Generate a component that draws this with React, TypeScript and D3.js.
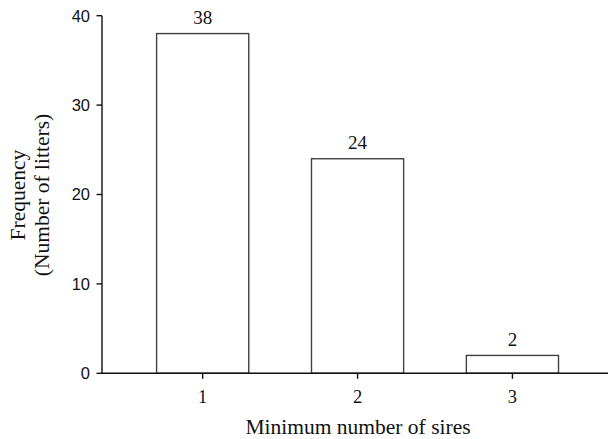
import React from "react";
import * as d3 from "d3";

const categories: number[] = [1, 2, 3];
const frequencies: number[] = [38, 24, 2];
const yTicks: number[] = [0, 10, 20, 30, 40];
const xTitle = "Minimum number of sires";
const yTitleLines: string[] = ["Frequency", "(Number of litters)"];

const W = 608;
const H = 439;
const axisX = 102;
const axisY = 373.3;
const topY = 15.7;

export default function App() {
  const x = d3.scaleLinear().domain([0.35, 3.617]).range([axisX, W]);
  const y = d3.scaleLinear().domain([0, 40]).range([axisY, topY]);
  const barW = 0.595;
  const serif = "'Liberation Serif', 'Times New Roman', serif";
  const sans = "'Liberation Sans', Arial, sans-serif";
  const barStroke = "#404040";

  return (
    <svg
      width={W}
      height={H}
      style={{ position: "absolute", left: 0, top: 0, background: "#fff" }}
    >
      <rect x={0} y={0} width={W} height={H} fill="#fff" />
      {/* bars */}
      {categories.map((c, i) => (
        <g key={c}>
          <rect
            x={x(c - barW / 2)}
            y={y(frequencies[i])}
            width={x(c + barW / 2) - x(c - barW / 2)}
            height={y(0) - y(frequencies[i])}
            fill="#fff"
            stroke={barStroke}
            strokeWidth={1.4}
          />
          <text
            x={x(c)}
            y={y(frequencies[i]) - 9.5}
            textAnchor="middle"
            fontFamily={serif}
            fontSize={19}
            fill="#111"
          >
            {frequencies[i]}
          </text>
        </g>
      ))}
      {/* y axis */}
      <line x1={axisX} x2={axisX} y1={topY} y2={axisY} stroke="#111" strokeWidth={1.4} />
      {yTicks.map((t) => (
        <g key={t}>
          <line x1={axisX - 5.5} x2={axisX} y1={y(t)} y2={y(t)} stroke="#111" strokeWidth={1.4} />
          <text
            x={axisX - 12}
            y={y(t)}
            dy="0.36em"
            textAnchor="end"
            fontFamily={sans}
            fontSize={16.5}
            fill="#111"
          >
            {t}
          </text>
        </g>
      ))}
      {/* x axis */}
      <line x1={axisX} x2={W} y1={axisY} y2={axisY} stroke="#111" strokeWidth={1.4} />
      {categories.map((c) => (
        <g key={c}>
          <line x1={x(c)} x2={x(c)} y1={axisY} y2={axisY + 5.5} stroke="#111" strokeWidth={1.4} />
          <text
            x={x(c)}
            y={axisY + 29.5}
            textAnchor="middle"
            fontFamily={serif}
            fontSize={18.5}
            fill="#111"
          >
            {c}
          </text>
        </g>
      ))}
      {/* titles */}
      <text
        x={358}
        y={434}
        textAnchor="middle"
        fontFamily={serif}
        fontSize={21.5}
        fill="#111"
      >
        {xTitle}
      </text>
      {yTitleLines.map((l, i) => (
        <text
          key={l}
          transform={`translate(${25 + i * 24},${195}) rotate(-90)`}
          textAnchor="middle"
          fontFamily={serif}
          fontSize={21.5}
          fill="#111"
        >
          {l}
        </text>
      ))}
    </svg>
  );
}
